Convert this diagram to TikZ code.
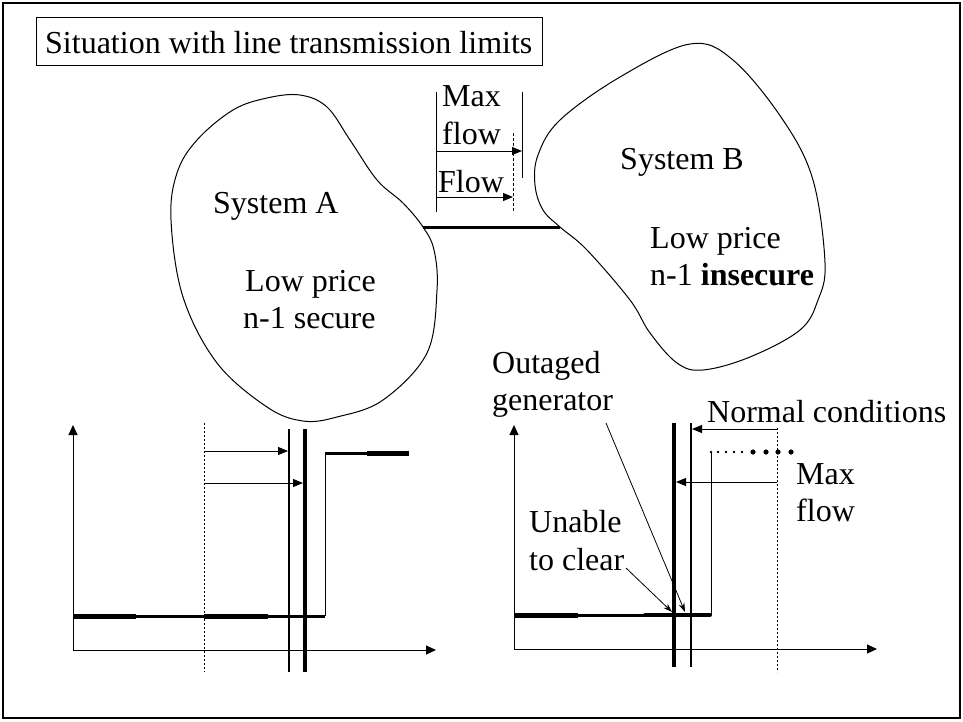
\documentclass[tikz,border=0pt]{standalone}
\usepackage{fontspec}
\setmainfont{Liberation Serif}
\usetikzlibrary{arrows.meta}
\begin{document}
\begin{tikzpicture}[x=1pt,y=-1pt,
  lbl/.style={anchor=base west,inner sep=0pt,font=\fontsize{32}{37}\selectfont},
  outline/.style={line width=1pt},
  arr/.style={line width=1pt,-{Triangle[length=10pt,width=8pt]}},
  axis/.style={line width=1pt,-{Triangle[length=10pt,width=9pt]}},
  callout/.style={line width=0.8pt,-{Stealth[length=9pt,width=6pt]}},
  heavy/.style={line width=5pt},
  medium/.style={line width=3pt},
  fineline/.style={line width=1.5pt},
  boldline/.style={line width=4pt},
  dotline/.style={line width=0.8pt,dash pattern=on 2pt off 2pt},
  smalldot/.style={fill=black},
]
\useasboundingbox (0,0) rectangle (963,721);

% outer frame and heading
\draw[line width=2pt] (3,3) rectangle (960,718);
\node[draw,line width=1pt,minimum width=506pt,minimum height=48pt,inner sep=0pt,
      anchor=north west] (titlebox) at (36,17) {};
\node[lbl] (title) at (45,53) {Situation with line transmission limits};

% the two systems
\draw[outline] plot[smooth cycle,tension=0.6] coordinates {
  (300,95) (327,107) (350,140) (377,180) (403,203) (423,227) (434,250)
  (437,290) (427,353) (383,400) (337,417) (303,421) (267,407) (217,363)
  (183,297) (171,220) (177,173) (197,140) (233,110) (267,98)};
\draw[outline] plot[smooth cycle,tension=0.6] coordinates {
  (560,227) (543,210) (535,185) (538,155) (560,120) (620,77) (690,44)
  (733,60) (783,120) (813,180) (825,263) (818,300) (800,330) (750,357)
  (703,370) (677,363) (650,333) (630,300) (587,250)};
\coordinate (aR) at (423,227);
\coordinate (bL) at (560,227);
\draw[line width=3pt] (aR) -- (bL);

\node[lbl] (sysA) at (213,213) {System A};
\node[lbl] (lowA) at (245,291) {Low price};
\node[lbl] (secA) at (243,328) {n-1 secure};
\node[lbl] (sysB) at (620,169) {System B};
\node[lbl] (lowB) at (650,248) {Low price};
\node[lbl] (secB) at (650,285) {n-1 \textbf{insecure}};

% flow indicator on the tie line
\coordinate (fTop) at (436,92);   \coordinate (fBot) at (436,212);
\coordinate (mTop) at (522,92);   \coordinate (mBot) at (522,178);
\coordinate (dTop) at (513,133);  \coordinate (dBot) at (513,212);
\draw[line width=1pt] (fTop) -- (fBot);
\draw[line width=1pt] (mTop) -- (mBot);
\draw[line width=1pt,dash pattern=on 3pt off 2pt] (dTop) -- (dBot);
\coordinate (m1) at (436,151); \coordinate (m2) at (522,151);
\coordinate (f1) at (436,197); \coordinate (f2) at (513,197);
\draw[arr] (m1) -- (m2);
\draw[arr] (f1) -- (f2);
\node[lbl] (maxT) at (442,106) {Max};
\node[lbl] (flowT) at (442,144) {flow};
\node[lbl] (FlowT) at (438,192) {Flow};

% left supply curve
\coordinate (o1) at (73,650);
\coordinate (y1) at (73,425);
\coordinate (x1) at (436,650);
\draw[axis] (o1) -- (y1);
\draw[axis] (o1) -- (x1);
\coordinate (lD1) at (204,423); \coordinate (lD2) at (204,672);
\coordinate (lT1) at (289,429); \coordinate (lT2) at (289,672);
\coordinate (lB1) at (305,429); \coordinate (lB2) at (305,672);
\draw[dotline] (lD1) -- (lD2);
\draw[fineline] (lT1) -- (lT2);
\draw[boldline] (lB1) -- (lB2);
\coordinate (la1) at (204,451); \coordinate (la2) at (288,451);
\coordinate (lb1) at (204,483); \coordinate (lb2) at (303,483);
\draw[arr] (la1) -- (la2);
\draw[arr] (lb1) -- (lb2);
\coordinate (s0) at (73,616);  \coordinate (s1) at (136,616);
\coordinate (s2) at (204,616); \coordinate (s3) at (268,616);
\coordinate (s4) at (325,616); \coordinate (s5) at (325,453);
\coordinate (s6) at (367,453); \coordinate (s7) at (409,453);
\draw[heavy] (s0) -- (s1);
\draw[medium] (s1) -- (s2);
\draw[heavy] (s2) -- (s3);
\draw[medium] (s3) -- (s4);
\draw[line width=1pt] (s4) -- (s5);
\draw[medium] (s5) -- (s6);
\draw[heavy] (s6) -- (s7);

% right supply curve
\coordinate (o2) at (514,649);
\coordinate (y2) at (514,425);
\coordinate (x2) at (877,649);
\draw[axis] (o2) -- (y2);
\draw[axis] (o2) -- (x2);
\coordinate (rB1) at (674,423); \coordinate (rB2) at (674,667);
\coordinate (rT1) at (691,423); \coordinate (rT2) at (691,667);
\coordinate (rD1) at (777,428); \coordinate (rD2) at (777,672);
\draw[boldline] (rB1) -- (rB2);
\draw[fineline] (rT1) -- (rT2);
\draw[dotline] (rD1) -- (rD2);
\coordinate (na1) at (777,429); \coordinate (na2) at (692,429);
\coordinate (ma1) at (777,482); \coordinate (ma2) at (676,482);
\draw[arr] (na1) -- (na2);
\draw[arr] (ma1) -- (ma2);
\coordinate (t0) at (514,615); \coordinate (t1) at (578,615);
\coordinate (t2) at (645,615); \coordinate (t3) at (710,615);
\coordinate (t4) at (711,615); \coordinate (t5) at (711,452);
\draw[heavy] (t0) -- (t1);
\draw[medium] (t1) -- (t2);
\draw[line width=4pt,line cap=round] (t2) -- (t3);
\draw[line width=1pt] (t4) -- (t5);
\foreach \px in {711,718,726,734,742}
  \fill[smalldot] (\px,452) circle (1.3pt);
\foreach \px in {753,766,778,791}
  \fill[smalldot] (\px,452) circle (2.6pt);

\node[lbl] (outaged) at (492,373) {Outaged};
\node[lbl] (generator) at (492,410) {generator};
\node[lbl] (normal) at (707,422) {Normal conditions};
\node[lbl] (maxR) at (796,484) {Max};
\node[lbl] (flowR) at (796,521) {flow};
\node[lbl] (unable) at (529,532) {Unable};
\node[lbl] (toclear) at (529,570) {to clear};

\coordinate (c1s) at (626,568); \coordinate (c1e) at (672,612);
\coordinate (c2s) at (606,423); \coordinate (c2e) at (685,612);
\draw[callout] (c1s) -- (c1e);
\draw[callout] (c2s) -- (c2e);
\end{tikzpicture}
\end{document}
